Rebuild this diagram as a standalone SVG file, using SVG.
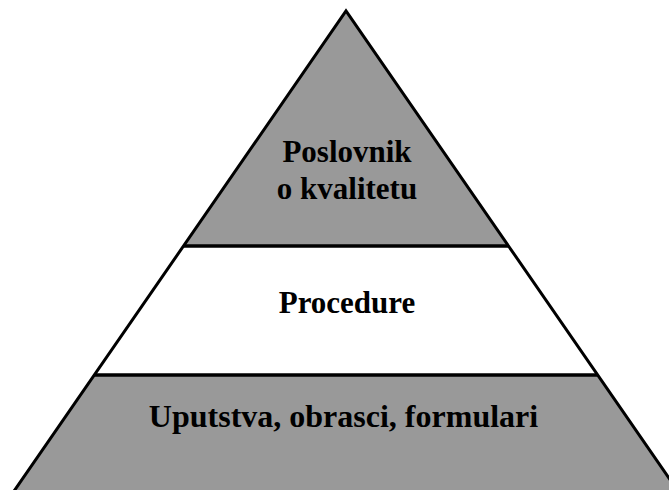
<svg xmlns="http://www.w3.org/2000/svg" width="669" height="490" viewBox="0 0 669 490">
<style>
.gray{fill:#999999;stroke:none}
.white{fill:#ffffff;stroke:none}
.edge{fill:none;stroke:#000;stroke-width:3;stroke-linejoin:miter}
.sep{stroke:#000;stroke-width:3.5}
.lbl{font-family:"Liberation Serif","Times New Roman",serif;font-weight:bold;font-size:31px;fill:#000;text-anchor:middle}
</style>
<rect width="669" height="490" fill="#ffffff"/>
<g id="top">
<polygon class="gray" points="346,11 183,246 509,246"/>
<text class="lbl" x="347" y="162">Poslovnik</text>
<text class="lbl" x="347" y="199">o kvalitetu</text>
</g>
<g id="middle">
<polygon class="white" points="183,246 509,246 598,375 94,375"/>
<text class="lbl" x="347" y="313">Procedure</text>
</g>
<g id="bottom">
<polygon class="gray" points="94,375 598,375 678,492 12,492"/>
<text class="lbl" x="343.5" y="427" style="font-size:32px">Uputstva, obrasci, formulari</text>
</g>
<g id="connectors">
<polyline class="edge" points="12,494 346,11 680,494"/>
<line class="sep" x1="183" y1="246" x2="509" y2="246"/>
<line class="sep" x1="94" y1="375" x2="598" y2="375"/>
</g>
</svg>
